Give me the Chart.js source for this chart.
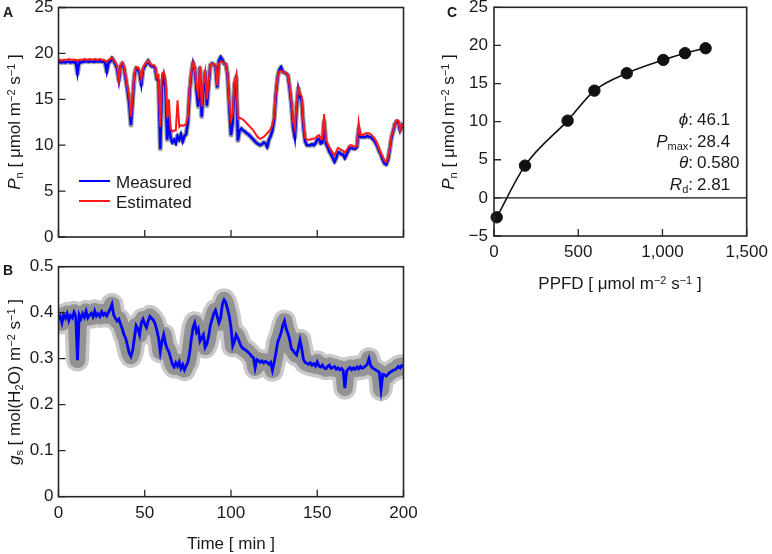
<!DOCTYPE html>
<html>
<head>
<meta charset="utf-8">
<script src="https://cdn.jsdelivr.net/npm/chart.js@4.4.1/dist/chart.umd.min.js"></script>
<style>
  body { margin: 0; background: #fff; font-family: "Liberation Sans", Arial, sans-serif; color: #1a1a1a; }
  #fig { position: relative; width: 772px; height: 554px; overflow: hidden; }
  canvas { position: absolute; }
  .t { position: absolute; white-space: nowrap; font-size: 17px; line-height: 1; }
  .rot { transform: translate(-50%, -50%) rotate(-90deg); }
  .ctr { transform: translate(-50%, -50%); }
  .mid { transform: translateY(-50%); }
  .t sup { font-size: 11px; position: relative; top: -0.45em; vertical-align: baseline; }
  .t sub { font-size: 11px; position: relative; top: 0.3em; vertical-align: baseline; }
  .letter { position: absolute; font-size: 14px; font-weight: bold; line-height: 1; }
  .sw { position: absolute; width: 31px; height: 2px; }
  .row { height: 21.7px; line-height: 21.7px; font-size: 17px; white-space: nowrap; }
  .row .k { display: inline-block; width: 96px; text-align: right; }
  .row .v { display: inline-block; padding-left: 4px; }
  .row sub { font-size: 11px; position: relative; top: 0.3em; vertical-align: baseline; }
</style>
</head>
<body>
<div id="fig">
  <canvas id="chartA" width="420" height="252" style="left:0;top:0"></canvas>
  <canvas id="chartB" width="420" height="296" style="left:0;top:258px"></canvas>
  <canvas id="chartC" width="332" height="300" style="left:440px;top:0"></canvas>

  <div class="letter" style="left:3px;top:5px">A</div>
  <div class="letter" style="left:3px;top:263px">B</div>
  <div class="letter" style="left:447px;top:5px">C</div>

  <div class="t rot" style="left:14px;top:122px"><i>P</i><sub>n</sub> [ μmol m<sup>−2</sup> s<sup>−1</sup> ]</div>
  <div class="t rot" style="left:14px;top:382px"><i>g</i><sub>s</sub> [ mol(H<sub>2</sub>O) m<sup>−2</sup> s<sup>−1</sup> ]</div>
  <div class="t ctr" style="left:231px;top:543px">Time [ min ]</div>
  <div class="t rot" style="left:448px;top:122px"><i>P</i><sub>n</sub> [ μmol m<sup>−2</sup> s<sup>−1</sup> ]</div>
  <div class="t ctr" style="left:620px;top:283px">PPFD [ μmol m<sup>−2</sup> s<sup>−1</sup> ]</div>

  <div class="sw" style="left:79px;top:180px;background:#0000ff"></div>
  <div class="t mid" style="left:116px;top:182px">Measured</div>
  <div class="sw" style="left:79px;top:200px;background:#ff1a1a"></div>
  <div class="t mid" style="left:116px;top:202px">Estimated</div>

  <div style="position:absolute;left:597px;top:109px">
    <div class="row"><span class="k"><i>ϕ</i>:</span><span class="v">46.1</span></div>
    <div class="row"><span class="k"><i>P</i><sub>max</sub>:</span><span class="v">28.4</span></div>
    <div class="row"><span class="k"><i>θ</i>:</span><span class="v">0.580</span></div>
    <div class="row"><span class="k"><i>R</i><sub>d</sub>:</span><span class="v">2.81</span></div>
  </div>
</div>

<script>
// 采样时间（分钟）
const minutes = Array.from({ length: 201 }, (_, i) => i);

// A: 净光合速率 实测 / 估计
const measuredPn = [
  19.0, 19.1, 19.0, 19.1, 19.0, 19.1, 19.1, 19.0, 19.1, 19.0,
  19.1, 17.8, 19.1, 19.0, 19.1, 19.1, 19.2, 19.1, 19.1, 19.2,
  19.1, 19.1, 19.2, 19.1, 19.2, 19.1, 19.1, 19.0, 18.0, 19.0,
  19.1, 19.5, 19.2, 18.8, 18.3, 17.0, 18.6, 18.9, 18.4, 17.2,
  16.0, 14.5, 12.2, 15.0, 17.6, 18.4, 18.3, 17.8, 16.6, 18.2,
  18.6, 18.9, 19.2, 18.8, 18.6, 18.6, 18.4, 17.2, 17.0, 9.6,
  16.5, 17.6, 16.2, 10.6, 12.4, 10.8, 10.3, 10.6, 10.2, 11.0,
  10.6, 11.2, 10.4, 11.0, 11.2, 12.5, 15.8, 17.8, 19.0, 18.3,
  16.0, 14.2, 18.4, 13.1, 16.0, 18.0, 14.3, 16.5, 18.7, 18.9,
  18.8, 18.6, 16.3, 19.2, 19.6, 19.3, 18.9, 18.8, 17.7, 14.2,
  11.1, 12.5, 16.6, 17.4, 10.5, 11.6, 11.8, 11.6, 11.5, 11.3,
  11.2, 11.0, 10.8, 10.6, 10.4, 10.2, 10.1, 10.0, 10.1, 10.3,
  10.2, 9.8, 10.6, 11.0, 11.6, 12.8, 15.5, 17.4, 18.2, 18.5,
  18.0, 17.9, 17.8, 17.6, 16.2, 14.5, 12.0, 10.8, 14.0, 16.2,
  15.3, 14.8, 12.0, 10.4, 10.0, 10.0, 10.0, 10.1, 10.0, 10.2,
  10.6, 10.7, 10.2, 10.3, 12.6, 10.2, 9.8, 9.3, 9.0, 8.6,
  8.2, 8.6, 9.2, 9.2, 9.0, 9.0, 8.6, 9.0, 9.4, 9.7,
  9.7, 9.6, 9.6, 9.8, 11.8, 10.9, 10.9, 10.9, 10.9, 11.0,
  10.9, 10.9, 10.7, 10.5, 10.2, 9.8, 9.3, 8.9, 8.4, 8.0,
  7.9, 8.4, 9.5, 10.8, 11.5, 12.3, 12.6, 12.5, 11.6, 12.2,
  11.9
];
const estimatedPn = [
  19.3, 19.3, 19.2, 19.3, 19.3, 19.3, 19.4, 19.3, 19.3, 19.3,
  19.3, 19.2, 19.3, 19.3, 19.3, 19.4, 19.3, 19.3, 19.4, 19.3,
  19.3, 19.4, 19.3, 19.3, 19.4, 19.3, 19.3, 19.2, 19.1, 19.3,
  19.4, 19.5, 19.3, 19.0, 18.6, 17.1, 18.7, 19.0, 18.6, 17.5,
  16.4, 15.2, 13.1, 15.5, 17.8, 18.5, 18.5, 18.1, 17.2, 18.4,
  18.8, 19.0, 19.2, 18.9, 18.7, 18.7, 18.6, 17.4, 17.6, 12.0,
  17.8, 18.0, 17.2, 13.0, 15.0, 11.8, 11.5, 11.6, 11.6, 14.9,
  12.0, 12.2, 12.1, 12.2, 12.3, 13.2, 16.2, 18.0, 19.0, 18.4,
  16.5, 15.6, 18.6, 14.2, 16.8, 18.0, 15.0, 16.8, 18.7, 18.9,
  18.8, 18.7, 16.5, 18.9, 19.1, 19.1, 18.9, 18.8, 17.8, 14.6,
  12.7, 13.5, 16.8, 17.6, 12.9, 13.0, 12.9, 12.8, 12.6, 12.4,
  12.2, 12.0, 11.8, 11.6, 11.3, 11.0, 10.8, 10.7, 10.8, 10.9,
  11.1, 11.3, 11.5, 11.8, 12.2, 13.2, 15.8, 17.4, 18.0, 18.1,
  18.0, 17.9, 17.8, 17.6, 16.5, 14.9, 12.6, 11.8, 14.6, 16.2,
  15.6, 15.3, 12.4, 10.8, 10.6, 10.6, 10.6, 10.7, 10.7, 10.8,
  11.0, 11.1, 10.7, 10.7, 13.4, 10.6, 10.2, 9.8, 9.5, 9.2,
  8.9, 9.3, 9.7, 9.6, 9.5, 9.4, 9.2, 9.4, 9.8, 10.0,
  10.0, 9.9, 9.8, 10.0, 12.5, 11.1, 11.1, 11.2, 11.3, 11.3,
  11.3, 11.2, 11.0, 10.8, 10.5, 10.0, 9.5, 9.1, 8.7, 8.3,
  8.2, 8.7, 9.6, 11.0, 11.6, 12.4, 12.7, 12.7, 11.6, 12.3,
  12.0
];

// B: 气孔导度
const measuredGs = [
  0.385, 0.392, 0.378, 0.395, 0.388, 0.398, 0.383, 0.394, 0.389, 0.401,
  0.392, 0.297, 0.395, 0.387, 0.398, 0.390, 0.403, 0.389, 0.395, 0.399,
  0.391, 0.404, 0.393, 0.398, 0.392, 0.402, 0.395, 0.399, 0.393, 0.401,
  0.408, 0.418, 0.395, 0.388, 0.382, 0.386, 0.375, 0.365, 0.352, 0.344,
  0.328, 0.312, 0.305, 0.318, 0.345, 0.372, 0.365, 0.352, 0.378, 0.386,
  0.375, 0.368, 0.382, 0.392, 0.388, 0.384, 0.376, 0.362, 0.345, 0.315,
  0.338, 0.352, 0.333, 0.322, 0.315, 0.302, 0.288, 0.282, 0.291, 0.284,
  0.293, 0.279, 0.287, 0.276, 0.285, 0.292, 0.312, 0.343, 0.368, 0.378,
  0.358, 0.365, 0.338, 0.345, 0.352, 0.325, 0.332, 0.348, 0.372, 0.385,
  0.398, 0.405, 0.392, 0.378, 0.388, 0.418, 0.428, 0.422, 0.408, 0.392,
  0.368, 0.328, 0.338, 0.352, 0.345, 0.335, 0.326, 0.322, 0.320, 0.317,
  0.314, 0.310, 0.305, 0.302, 0.280, 0.298, 0.296, 0.292, 0.295, 0.291,
  0.294, 0.292, 0.288, 0.292, 0.275, 0.292, 0.312, 0.335, 0.345, 0.356,
  0.372, 0.382, 0.365, 0.355, 0.342, 0.322, 0.318, 0.312, 0.308, 0.322,
  0.340, 0.322, 0.298, 0.292, 0.290, 0.288, 0.291, 0.286, 0.289, 0.284,
  0.293, 0.284, 0.282, 0.286, 0.280, 0.278, 0.283, 0.286, 0.279, 0.281,
  0.283, 0.277, 0.280, 0.276, 0.279, 0.275, 0.236, 0.272, 0.278, 0.281,
  0.276, 0.280, 0.277, 0.282, 0.278, 0.283, 0.279, 0.281, 0.284, 0.288,
  0.300, 0.285, 0.280, 0.278, 0.275, 0.273, 0.270, 0.233, 0.266, 0.265,
  0.262, 0.266, 0.270, 0.272, 0.275, 0.276, 0.279, 0.283, 0.280, 0.285,
  0.283
];

// C: 光响应曲线
const ppfd = [16, 184, 437, 596, 788, 1005, 1134, 1256];
const pnLight = [-2.55, 4.23, 10.13, 14.07, 16.35, 18.1, 18.98, 19.63];

Chart.defaults.font.family = "'Liberation Sans', Arial, sans-serif";
Chart.defaults.font.size = 17;
Chart.defaults.color = "#1a1a1a";

const toXY = (xs, ys) => xs.map((x, i) => ({ x: x, y: ys[i] }));

// 边框 + 向内的刻度线
const framePlugin = {
  id: "frame",
  beforeDatasetsDraw(chart, args, opts) {
    if (!opts.zeroLine) return;
    const { ctx, chartArea: a, scales } = chart;
    const py = scales.y.getPixelForValue(0);
    ctx.save();
    ctx.strokeStyle = "#111";
    ctx.lineWidth = 1.3;
    ctx.beginPath();
    ctx.moveTo(a.left, py);
    ctx.lineTo(a.right, py);
    ctx.stroke();
    ctx.restore();
  },
  afterDatasetsDraw(chart) {
    const { ctx, chartArea: a, scales } = chart;
    ctx.save();
    ctx.strokeStyle = "#262626";
    ctx.lineWidth = 1.6;
    ctx.strokeRect(a.left, a.top, a.right - a.left, a.bottom - a.top);
    ctx.lineWidth = 1.3;
    ctx.beginPath();
    scales.y.ticks.forEach((t) => {
      const py = scales.y.getPixelForValue(t.value);
      ctx.moveTo(a.left, py);
      ctx.lineTo(a.left + 7, py);
    });
    scales.x.ticks.forEach((t) => {
      const px = scales.x.getPixelForValue(t.value);
      ctx.moveTo(px, a.bottom);
      ctx.lineTo(px, a.bottom - 7);
    });
    ctx.stroke();
    ctx.restore();
  },
};

function makeOptions(cfg) {
  return {
    responsive: false,
    animation: false,
    layout: { padding: cfg.padding },
    plugins: {
      legend: { display: false },
      tooltip: { enabled: false },
      frame: { zeroLine: !!cfg.zeroLine },
    },
    elements: { point: { radius: 0 }, line: { tension: 0 } },
    scales: {
      x: {
        type: "linear",
        min: cfg.xMin,
        max: cfg.xMax,
        grid: { display: false, drawTicks: false },
        border: { display: false },
        ticks: {
          display: cfg.xLabels,
          stepSize: cfg.xStep,
          padding: cfg.xPad || 6,
          autoSkip: false,
          maxRotation: 0,
          callback: (v) => v.toLocaleString("en-US"),
        },
        afterFit(s) {
          s.height = cfg.xHeight;
          s.paddingLeft = 0;
          s.paddingRight = 0;
        },
      },
      y: {
        min: cfg.yMin,
        max: cfg.yMax,
        grid: { display: false, drawTicks: false },
        border: { display: false },
        ticks: {
          stepSize: cfg.yStep,
          padding: cfg.yPad || 5,
          autoSkip: false,
          callback: cfg.yFmt,
        },
        afterFit(s) {
          s.width = cfg.yWidth;
          s.paddingTop = 0;
          s.paddingBottom = 0;
        },
      },
    },
  };
}

// A
new Chart(document.getElementById("chartA"), {
  type: "line",
  data: {
    datasets: [
      { label: "Estimated", data: toXY(minutes, estimatedPn), borderColor: "#ff1a1a", borderWidth: 2, clip: 0 },
      { label: "Measured", data: toXY(minutes, measuredPn), borderColor: "#0000ff", borderWidth: 2.5, clip: 0 },
      { label: "spread", data: toXY(minutes, measuredPn), borderColor: "rgba(140,140,140,0.85)", borderWidth: 5, borderJoinStyle: "round", clip: 0 },
    ],
  },
  options: makeOptions({
    padding: { top: 7.5, right: 16.5, left: 0, bottom: 0 },
    xMin: 0, xMax: 200, xStep: 50, xLabels: false, xHeight: 15,
    yMin: 0, yMax: 25, yStep: 5, yWidth: 58.5,
    yFmt: (v) => String(v),
  }),
  plugins: [framePlugin],
});

// B
new Chart(document.getElementById("chartB"), {
  type: "line",
  data: {
    datasets: [
      { label: "Measured", data: toXY(minutes, measuredGs), borderColor: "#0000ff", borderWidth: 2.8, clip: 0 },
      { label: "spread", data: toXY(minutes, measuredGs), borderColor: "#939393", borderWidth: 16, borderJoinStyle: "round", clip: 0 },
      { label: "spread2", data: toXY(minutes, measuredGs), borderColor: "#c9c9c9", borderWidth: 23, borderJoinStyle: "round", clip: 0 },
    ],
  },
  options: makeOptions({
    padding: { top: 8.7, right: 16.5, left: 0, bottom: 0 },
    xMin: 0, xMax: 200, xStep: 50, xLabels: true, xHeight: 57.3, xPad: 6,
    yMin: 0, yMax: 0.5, yStep: 0.1, yWidth: 58.5,
    yFmt: (v) => (v === 0 ? "0" : v.toFixed(1)),
  }),
  plugins: [framePlugin],
});

// C
new Chart(document.getElementById("chartC"), {
  type: "line",
  data: {
    datasets: [
      { label: "points", data: toXY(ppfd, pnLight), showLine: false, pointRadius: 5.7, pointBackgroundColor: "#111", pointBorderColor: "#111", clip: false },
      { label: "fit", data: toXY(ppfd, pnLight), borderColor: "#111", borderWidth: 1.6, cubicInterpolationMode: "monotone", pointRadius: 0 },
    ],
  },
  options: makeOptions({
    padding: { top: 7.3, right: 25.3, left: 0, bottom: 0 },
    xMin: 0, xMax: 1500, xStep: 500, xLabels: true, xHeight: 64, xPad: 6,
    yMin: -5, yMax: 25, yStep: 5, yWidth: 54, yPad: 6,
    yFmt: (v) => (v < 0 ? "\u2212" + Math.abs(v) : String(v)),
    zeroLine: true,
  }),
  plugins: [framePlugin],
});
</script>
</body>
</html>
